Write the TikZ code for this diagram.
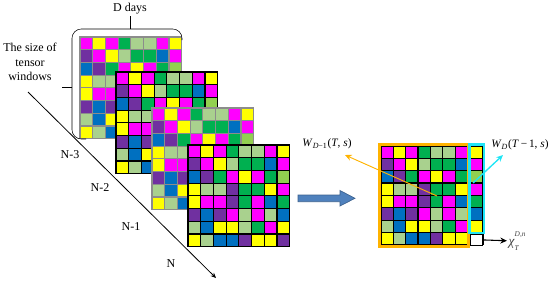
\documentclass[tikz,border=0pt]{standalone}
\usepackage{fontspec}
\setmainfont{Liberation Serif}
\usetikzlibrary{positioning,arrows.meta,calc}
\definecolor{cM}{HTML}{FF00FF}
\definecolor{cY}{HTML}{FFFF00}
\definecolor{cG}{HTML}{00B050}
\definecolor{cL}{HTML}{A9D18E}
\definecolor{cP}{HTML}{7030A0}
\definecolor{cB}{HTML}{0070C0}
\definecolor{cLm}{HTML}{92D050}
\definecolor{figgrey}{HTML}{8C8C8C}
\definecolor{figorange}{HTML}{FFB300}
\definecolor{figcyan}{HTML}{1FE5F5}
\definecolor{figblue}{HTML}{4F81BD}
\tikzset{
  fig/.style={font=\fontsize{9}{11}\selectfont,x=0.75pt,y=-0.75pt},
  lbl/.style={inner sep=1pt,align=center},
  mlbl/.style={inner sep=1pt,font=\fontsize{8.5}{10}\selectfont},
  ln/.style={-{Stealth[length=5pt,width=4.5pt]},thick},
  lnt/.style={-{Stealth[length=4pt,width=3.5pt]},line width=0.6pt},
}
% colour pattern shared by all tensor windows
\def\tpattern{{cM,cY,cM,cG,cL,cL,cM,cY},{cP,cM,cY,cL,cG,cG,cB,cM},
  {cB,cP,cG,cM,cY,cM,cG,cLm},{cY,cL,cL,cP,cG,cG,cY,cM},
  {cY,cM,cM,cP,cG,cM,cB,cG},{cP,cB,cP,cM,cL,cM,cL,cB},
  {cL,cB,cY,cY,cL,cG,cM,cY},{cY,cL,cB,cB,cP,cY,cY,cP}}
% x, y, cell, line colour
\newcommand{\tgrid}[4]{%
  \foreach \row [count=\i from 0] in \tpattern {
    \foreach \c [count=\j from 0] in \row {
      \filldraw[fill=\c,draw=#4,line width=0.9pt]
        ({#1+\j*#3},{#2+\i*#3}) rectangle ++(#3,#3);
    }
  }%
}
\newcommand{\itx}[1]{\textit{#1}}
\newcommand{\sub}[1]{\textsubscript{#1}}

\begin{document}
\begin{tikzpicture}[fig]
\useasboundingbox (0,0) rectangle (550,283);

% stacked windows
\tgrid{80}{37}{12.7}{figgrey}
\tgrid{116}{72}{12.7}{black}
\tgrid{152}{108}{12.7}{figgrey}
\tgrid{188}{145}{12.7}{black}

% bracket round the first window
\node[lbl] (dd) at (130,9) {D days};
\node[lbl] (tsw) at (30,62) {The size of\\tensor\\windows};
\draw[rounded corners=7pt] (86,139) -- (72,139) -- (72,29) -- (182,29) -- (182,40);
\coordinate (bt) at (130,29);
\coordinate (bl) at (72,87);
\coordinate (blx) at (62,87);
\draw (bt) -- (dd.south);
\draw (bl) -- (blx);

% time axis
\coordinate (ds) at (28,92);
\coordinate (de) at (216,278);
\draw[lnt] (ds) -- (de);
\node[lbl] (n3) at (70,155) {N-3};
\node[lbl] (n2) at (100,188) {N-2};
\node[lbl] (n1) at (131,227) {N-1};
\node[lbl] (n) at (171,264) {N};

% big arrow
\filldraw[fill=figblue,draw=figblue!75!black,line width=0.5pt]
  (298,195) -- (340,195) -- (340,190.5) -- (355,198.3) -- (340,206)
  -- (340,201.7) -- (298,201.7) -- cycle;

% last window
\foreach \row [count=\i from 0] in \tpattern {
  \foreach \c [count=\j from 0] in \row {
    \pgfmathsetmacro\xx{381+\j*12.35+(\j>6)*3.2}
    \filldraw[fill=\c,draw=black,line width=0.9pt]
      (\xx,{146+\i*12.35}) rectangle ++(12.35,12.35);
  }
}
\node[draw=black,fill=white,line width=0.9pt,minimum size=8.6pt,inner sep=0pt]
  (xc) at (476.6,239.7) {};
\draw[figorange,line width=1.9pt] (379.5,144.5) rectangle (468.3,246.3);
\draw[figcyan,line width=1.9pt] (469.6,144.5) rectangle (484,232.8);

\node[mlbl] (wd1) at (327,144) {\itx{W}\sub{\itx{D}−1}(\itx{T}, \itx{s})};
\node[mlbl] (wd) at (520,145) {\itx{W}\sub{\itx{D}}(\itx{T}\,−\,1, \itx{s})};
\node[mlbl,text=black!75,anchor=west,font=\fontsize{10}{11}\selectfont]
  (chi) at (507,241)
  {\itx{χ}\rlap{\raisebox{1.5ex}{\fontsize{5.5}{6}\selectfont\itx{D},\itx{n}}}%
   \raisebox{-0.9ex}{\fontsize{5.5}{6}\selectfont\itx{T}}\hspace{6pt}};

\coordinate (oa) at (437,196);
\coordinate (ca) at (473,183);
\draw[ln,figorange,line width=0.7pt] (oa) -- ($(wd1)+(18,11)$);
\draw[ln,figcyan,line width=1pt] (ca) -- ($(wd)+(-17,10)$);
\draw[ln,line width=0.8pt] (xc) -- (chi);

\end{tikzpicture}
\end{document}
